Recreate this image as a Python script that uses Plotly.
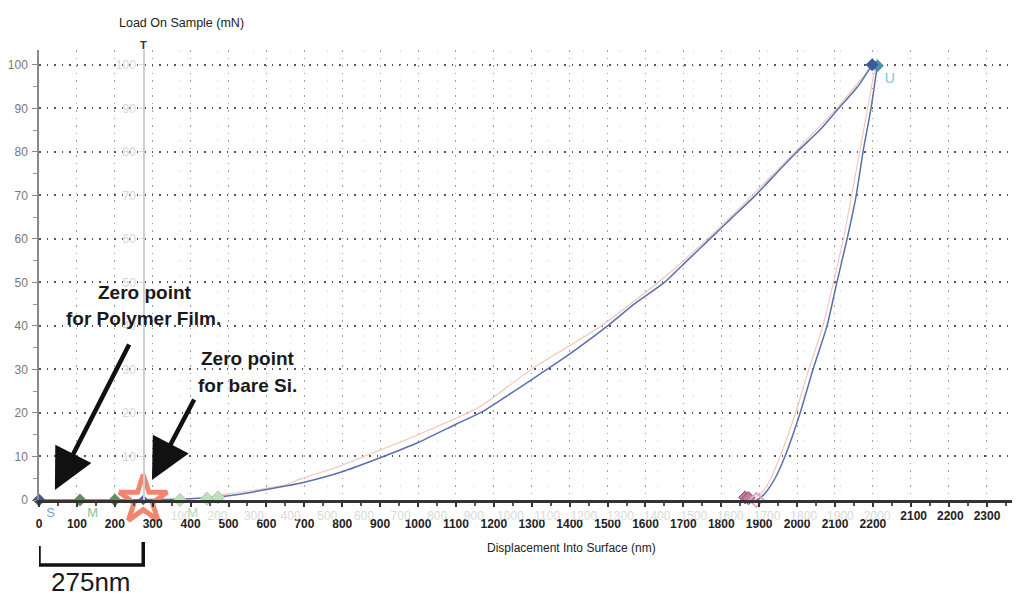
import plotly.graph_objects as go

# ---------------- data ----------------
load_disp = [0, 100, 200, 300, 400, 450, 500, 550, 600, 650, 700, 800, 900, 1000, 1100, 1170,
             1250, 1340, 1420, 1500, 1570, 1650, 1710, 1770, 1830, 1890, 1950, 2000, 2060, 2110, 2160, 2198]
load_mn = [0, 0, 0, 0.1, 0.3, 0.6, 1.0, 1.6, 2.4, 3.2, 4.1, 6.5, 9.7, 13.2, 17.4, 20.3,
           24.8, 30, 34.8, 40, 45, 50, 55, 60, 65, 70, 75.5, 80, 85, 90, 95, 100]

unload_disp = [2212, 2195, 2174, 2156, 2132, 2105, 2079, 2042, 2008, 1968, 1942, 1920, 1903, 1893]
unload_mn = [100, 90, 80, 70, 60, 50, 40, 30, 20, 10, 5, 2, 0.5, 0]

ghost_load_disp = [450, 550, 650, 689, 800, 900, 1000, 1164, 1303, 1480, 1657, 1800, 1950, 2100, 2198]
ghost_load_mn = [0.8, 2.0, 3.5, 4.8, 8.0, 11.5, 15, 21.5, 30.3, 39.8, 51.7, 63, 76, 89.5, 99.8]

ghost_unload_disp = [2205, 2165, 2122, 2068, 2031, 1996, 1955, 1925, 1905, 1885]
ghost_unload_mn = [99, 80, 60, 40, 30, 20, 10, 4, 1.5, 0.5]

start_disp, start_mn, start_text = [0], [0], ["S"]
film_disp, film_mn, film_text = [108, 200], [0, 0], ["M", ""]
ghost_mark_disp, ghost_mark_mn, ghost_mark_text = [372, 443, 472], [0, 0.3, 0.6], ["M", "", ""]
si_zero_disp, si_zero_mn = [275], [0]
peak_disp, peak_mn = [2198], [100]
peak2_disp, peak2_mn, peak2_text = [2212], [99.8], ["U"]
end_disp, end_mn = [1863, 1872], [0.6, 0.4]
end2_disp, end2_mn = [1893], [0]

x_ticks = list(range(0, 2600, 100))
x_tick_text = [str(v) if v <= 2200 else "" for v in x_ticks]
siB_ticks = list(range(100, 2100, 100))
siB_tick_text = [str(v) for v in siB_ticks]
siB_end_ticks = [2100, 2200, 2300]
siB_end_text = ["2100", "2200", "2300"]
y_ticks = list(range(0, 110, 10))
y_ghost_ticks = list(range(10, 110, 10))

FONT = "Liberation Sans, Arial, sans-serif"
BLUE = "#5a6fae"
PINK = "#f5c4b4"

fig = go.Figure()

fig.add_trace(go.Scatter(x=ghost_load_disp, y=ghost_load_mn, mode="lines",
                         line=dict(color=PINK, width=1.1, shape="spline", smoothing=0.6), hoverinfo="skip"))
fig.add_trace(go.Scatter(x=ghost_unload_disp, y=ghost_unload_mn, mode="lines",
                         line=dict(color=PINK, width=1.1, shape="spline", smoothing=0.6), hoverinfo="skip"))
fig.add_trace(go.Scatter(x=load_disp, y=load_mn, mode="lines",
                         line=dict(color=BLUE, width=1.5, shape="spline", smoothing=0.6)))
fig.add_trace(go.Scatter(x=unload_disp, y=unload_mn, mode="lines",
                         line=dict(color=BLUE, width=1.5, shape="spline", smoothing=0.6)))

# segment markers
fig.add_trace(go.Scatter(x=ghost_mark_disp, y=ghost_mark_mn, mode="markers+text", text=ghost_mark_text,
                         textposition="bottom right", textfont=dict(color="#b5d8b5", size=13, family=FONT),
                         marker=dict(symbol="diamond", size=10, color="#bfe0bf",
                                     line=dict(color="#a8cfa8", width=1)), cliponaxis=False))
fig.add_trace(go.Scatter(x=film_disp, y=film_mn, mode="markers+text", text=film_text,
                         textposition="bottom right", textfont=dict(color="#8fc28f", size=13, family=FONT),
                         marker=dict(symbol="diamond", size=10, color="#5f8f60"), cliponaxis=False))
fig.add_trace(go.Scatter(x=si_zero_disp, y=si_zero_mn, mode="markers",
                         marker=dict(symbol="star-open", size=36, color="#f0866e",
                                     line=dict(width=5, color="#f0866e")), cliponaxis=False))
fig.add_trace(go.Scatter(x=si_zero_disp, y=si_zero_mn, mode="markers",
                         marker=dict(symbol="diamond", size=8, color="#4a64a8"), cliponaxis=False))
fig.add_trace(go.Scatter(x=start_disp, y=start_mn, mode="markers+text", text=start_text,
                         textposition="bottom right", textfont=dict(color="#7f9fc8", size=13, family=FONT),
                         marker=dict(symbol="diamond", size=10, color="#3d5a99"), cliponaxis=False))
fig.add_trace(go.Scatter(x=end_disp, y=end_mn, mode="markers",
                         marker=dict(symbol="diamond", size=10, color="#c77a9e",
                                     line=dict(color="#8a4f6a", width=1)), cliponaxis=False))
fig.add_trace(go.Scatter(x=end2_disp, y=end2_mn, mode="markers",
                         marker=dict(symbol="diamond-open", size=11, color="#e7a3c7",
                                     line=dict(width=2)), cliponaxis=False))
fig.add_trace(go.Scatter(x=peak2_disp, y=peak2_mn, mode="markers+text", text=peak2_text,
                         textposition="bottom right", textfont=dict(color="#7fc0df", size=14, family=FONT),
                         marker=dict(symbol="diamond", size=10, color="#4f8fae"), cliponaxis=False))
fig.add_trace(go.Scatter(x=peak_disp, y=peak_mn, mode="markers",
                         marker=dict(symbol="diamond", size=10, color="#3d5a99"), cliponaxis=False))

# dummy traces so the overlaid (bare Si) axes get drawn
fig.add_trace(go.Scatter(x=[1000], y=[None], xaxis="x2", yaxis="y2", mode="lines",
                         hoverinfo="skip"))
fig.add_trace(go.Scatter(x=[2200], y=[None], xaxis="x3", yaxis="y", mode="lines",
                         hoverinfo="skip"))

# annotations
ann = []
ann.append(dict(text="Load On Sample (mN)", xref="paper", yref="paper", x=0.146, y=1.06,
                xanchor="center", yanchor="middle",
                showarrow=False, font=dict(family=FONT, size=12.5, color="#222")))
ann.append(dict(text="Displacement Into Surface (nm)", xref="paper", yref="paper", x=0.5477, y=-0.107,
                xanchor="center", yanchor="middle",
                showarrow=False, font=dict(family=FONT, size=12, color="#222")))
ann.append(dict(text="T", xref="paper", yref="paper", x=0.1079, y=1.012, showarrow=False,
                xanchor="center", yanchor="middle",
                font=dict(family=FONT, size=11, color="#333", weight="bold")))
for txt, xx, yy in [("Zero point", 280, 47.6), ("for Polymer Film.", 277, 41.6),
                    ("Zero point", 551, 32.6), ("for bare Si.", 549, 26.4)]:
    ann.append(dict(text=txt, x=xx, y=yy, xref="x", yref="y", showarrow=False,
                    xanchor="center", yanchor="middle",
                    font=dict(family=FONT, size=19, color="#1a1a1a", weight="bold")))
ann.append(dict(x=42, y=2.3, xref="x", yref="y", ax=75, ay=-147, axref="pixel", ayref="pixel",
                showarrow=True, arrowhead=2, arrowsize=1.8, arrowwidth=4.5, arrowcolor="#111", text=""))
ann.append(dict(x=298, y=4.6, xref="x", yref="y", ax=43, ay=-82, axref="pixel", ayref="pixel",
                showarrow=True, arrowhead=2, arrowsize=1.8, arrowwidth=4.5, arrowcolor="#111", text=""))
ann.append(dict(text="275nm", x=137, y=-0.182, xref="x", yref="paper", showarrow=False,
                xanchor="center", yanchor="middle",
                font=dict(family=FONT, size=26, color="#1a1a1a")))

shapes = [dict(type="path", xref="x", yref="paper",
               path="M 0,-0.102 L 0,-0.1444 L 275,-0.1444 L 275,-0.0933",
               line=dict(color="#111", width=3.5))]

fig.update_layout(
    width=1018, height=598,
    margin=dict(l=31, r=14, t=42, b=106, autoexpand=False),
    plot_bgcolor="white", paper_bgcolor="white",
    showlegend=False,
    font=dict(family=FONT),
    annotations=ann, shapes=shapes,
    xaxis=dict(range=[0, 2567], tickvals=x_ticks, ticktext=x_tick_text, automargin=False,
               ticks="outside", ticklen=4, tickcolor="#333", tickwidth=1.5,
               minor=dict(dtick=50, tick0=0, ticks="outside", ticklen=3, tickcolor="#555"),
               showline=True, linecolor="#333", linewidth=3,
               showgrid=True, gridcolor="#a0a0a0", griddash="1.5px,6px", gridwidth=1.2,
               zeroline=False, ticklabelstandoff=7,
               tickfont=dict(family=FONT, size=12, color="#222", weight="bold")),
    xaxis2=dict(overlaying="x", anchor="y", side="bottom", range=[-286.5, 2368.3], automargin=False,
                tickvals=siB_ticks, ticktext=siB_tick_text, ticks="",
                showline=False, showgrid=True, gridcolor="#e4e4e4", griddash="1.5px,6px", gridwidth=1,
                zeroline=False, ticklabelstandoff=7,
                tickfont=dict(family=FONT, size=12, color="#dadada")),
    xaxis3=dict(overlaying="x", anchor="y", side="bottom", range=[-286.5, 2368.3], automargin=False,
                tickvals=siB_end_ticks, ticktext=siB_end_text, ticks="",
                showline=False, showgrid=False, zeroline=False, ticklabelstandoff=7,
                tickfont=dict(family=FONT, size=12, color="#222", weight="bold")),
    yaxis=dict(range=[0, 103.4], tickvals=y_ticks, ticks="outside", ticklen=5, automargin=False,
               tickcolor="#888", tickwidth=1.2,
               minor=dict(dtick=5, tick0=0, ticks="outside", ticklen=4, tickcolor="#999"),
               showline=True, linecolor="#8a8a8a", linewidth=1.5,
               showgrid=True, gridcolor="#555", griddash="1.5px,6px", gridwidth=1.5,
               zeroline=False, ticklabelstandoff=2,
               tickfont=dict(family=FONT, size=12, color="#777")),
    yaxis2=dict(overlaying="y", anchor="free", position=0.1079, side="left", automargin=False,
                range=[0, 103.4], tickvals=y_ghost_ticks, ticks="outside", ticklen=4,
                tickcolor="#dcdcdc", showline=True, linecolor="#cfcfcf", linewidth=1.5,
                showgrid=False, zeroline=False, ticklabelstandoff=1,
                tickfont=dict(family=FONT, size=12, color="#d6d6d6")),
)

fig.write_html("out.html")
